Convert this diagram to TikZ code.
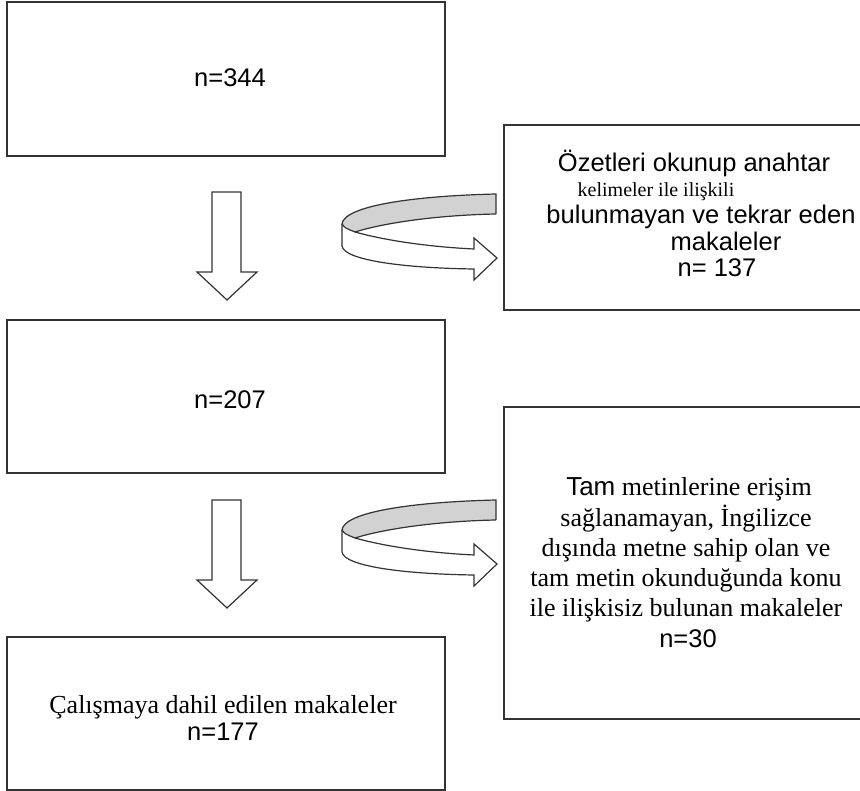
\documentclass[tikz,border=0pt]{standalone}
\usepackage{fontspec}
\setmainfont{Liberation Serif}
\newfontfamily\arialf{Liberation Sans}
\definecolor{linec}{HTML}{333333}
\definecolor{bandgray}{HTML}{D2D2D2}
\tikzset{
  boxnode/.style={draw=linec, line width=1.4pt, inner sep=0pt, minimum width=438pt},
  rboxnode/.style={draw=linec, line width=1.4pt, inner sep=0pt, minimum width=376pt},
  sanstxt/.style={font=\arialf\fontsize{25.5}{30}\selectfont, anchor=base, inner sep=0pt},
  seriftxt/.style={font=\fontsize{26}{30}\selectfont, anchor=base, inner sep=0pt},
  smallserif/.style={font=\fontsize{20}{24}\selectfont, anchor=base, inner sep=0pt},
  outl/.style={draw=linec, line width=1.2pt, line join=miter},
  downarrow/.pic={
    \draw[outl, fill=white] (-15,0) -- (14,0) -- (14,80) -- (30,80) -- (0,108) -- (-30,80) -- (-15,80) -- cycle;
  },
  curvearrow/.pic={
    \fill[bandgray] (154,0) .. controls (70,2) and (2,12) .. (0,30)
      .. controls (3,34) .. (13,38) .. controls (45,28) and (100,21) .. (154,20) -- cycle;
    \fill[white] (0,30) .. controls (3,34) .. (13,38) .. controls (45,47) and (90,53) .. (132,55)
      -- (132,44) -- (155,64) -- (132,86) -- (132,75)
      .. controls (60,74) and (2,66) .. (0,52) -- cycle;
    \draw[outl] (154,20) -- (154,0) .. controls (70,2) and (2,12) .. (0,30)
      .. controls (3,34) .. (13,38) .. controls (45,28) and (100,21) .. (154,20);
    \draw[outl] (0,30) -- (0,52) .. controls (2,66) and (60,74) .. (132,75)
      -- (132,86) -- (155,64) -- (132,44) -- (132,55)
      .. controls (90,53) and (45,47) .. (13,38);
  }
}
\begin{document}
\begin{tikzpicture}[x=1pt,y=-1pt]
\clip (0,0) rectangle (860,791);
\fill[white] (0,0) rectangle (860,791);

% left boxes
\node[boxnode, minimum height=154pt] (b1) at (226,79) {};
\node[boxnode, minimum height=153pt] (b2) at (226,396.5) {};
\node[boxnode, minimum height=153pt] (b3) at (226,713.5) {};
% right boxes
\node[rboxnode, minimum height=185pt] (r1) at (692,217.5) {};
\node[rboxnode, minimum height=312pt] (r2) at (692,563) {};

% texts
\node[sanstxt] (t1) at (230,87) {n=344};
\node[sanstxt] (t2) at (230,409) {n=207};
\node[seriftxt] (t3a) at (223,713) {Çalışmaya dahil edilen makaleler};
\node[sanstxt] (t3b) at (223,740) {n=177};

\node[sanstxt] (r1a) at (694,171.5) {Özetleri okunup anahtar};
\node[smallserif] (r1b) at (656,196.5) {kelimeler ile ilişkili};
\node[sanstxt] (r1c) at (701,224) {bulunmayan ve tekrar eden};
\node[sanstxt] (r1d) at (726,250.5) {makaleler};
\node[sanstxt] (r1e) at (717,276.5) {n= 137};

\node[seriftxt] (r2a) at (689,496) {{\arialf Tam} metinlerine erişim};
\node[seriftxt] (r2b) at (686,526.5) {sağlanamayan, İngilizce};
\node[seriftxt] (r2c) at (686,556.5) {dışında metne sahip olan ve};
\node[seriftxt] (r2d) at (686,586) {tam metin okunduğunda konu};
\node[seriftxt] (r2e) at (686,616) {ile ilişkisiz bulunan makaleler};
\node[sanstxt] (r2f) at (688,647) {n=30};

% block arrows
\coordinate (d1) at (227,192);
\coordinate (d2) at (227,500);
\pic at (d1) {downarrow};
\pic at (d2) {downarrow};
\coordinate (c1) at (342,194);
\coordinate (c2) at (342,500);
\pic at (c1) {curvearrow};
\pic at (c2) {curvearrow};
\end{tikzpicture}
\end{document}
